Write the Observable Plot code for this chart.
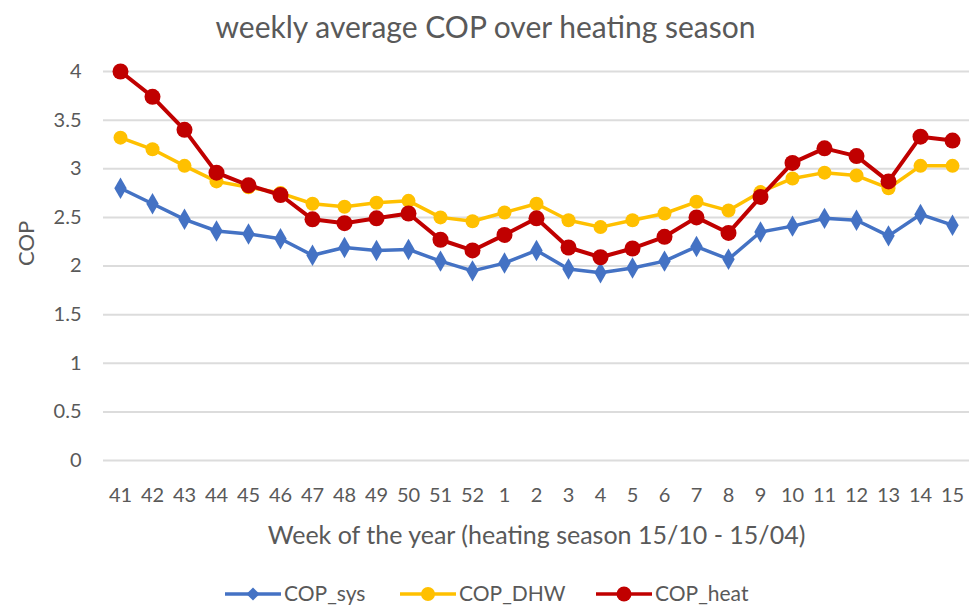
<!DOCTYPE html>
<html>
<head>
<meta charset="utf-8">
<script src="https://cdn.jsdelivr.net/npm/d3@7"></script>
<script src="https://cdn.jsdelivr.net/npm/@observablehq/plot@0.6"></script>
<style>
  body { margin: 0; background: #fff; }
  #wrap { position: relative; width: 969px; height: 608px; overflow: hidden;
          font-family: Lato, sans-serif; color: #595959; }
  #legend { position: absolute; left: 0; top: 581px; width: 969px; height: 27px; }
</style>
</head>
<body>
<div id="wrap"><div id="chart"></div><div id="legend"></div></div>
<script>
const weeks = ["41","42","43","44","45","46","47","48","49","50","51","52","1","2","3","4","5","6","7","8","9","10","11","12","13","14","15"];
const copSys  = [2.80,2.64,2.48,2.36,2.33,2.28,2.11,2.19,2.16,2.17,2.05,1.95,2.03,2.16,1.97,1.93,1.98,2.05,2.20,2.07,2.35,2.41,2.49,2.47,2.31,2.53,2.42];
const copDhw  = [3.32,3.20,3.03,2.87,2.81,2.75,2.64,2.61,2.65,2.67,2.50,2.46,2.55,2.64,2.47,2.40,2.47,2.54,2.66,2.57,2.76,2.90,2.96,2.93,2.80,3.03,3.03];
const copHeat = [4.00,3.74,3.40,2.96,2.83,2.73,2.48,2.44,2.49,2.54,2.27,2.16,2.32,2.49,2.19,2.09,2.18,2.30,2.50,2.34,2.71,3.06,3.21,3.13,2.87,3.33,3.29];
const yTicks = [0,0.5,1,1.5,2,2.5,3,3.5,4];
const seriesNames = ["COP_sys","COP_DHW","COP_heat"];
const seriesColors = ["#4472C4","#FFC000","#C00000"];
const title = "weekly average COP over heating season";
const xTitle = "Week of the year (heating season 15/10 - 15/04)";
const yTitle = "COP";

const mk = (vals) => weeks.map((w, i) => ({week: w, value: vals[i]}));
const sys = mk(copSys), dhw = mk(copDhw), heat = mk(copHeat);
const font = 'Lato, sans-serif';

const chart = Plot.plot({
  width: 969,
  height: 581,
  marginTop: 71,
  marginBottom: 121,
  marginLeft: 103,
  marginRight: 0,
  style: {fontFamily: font, color: "#595959", background: "white"},
  x: {type: "point", domain: weeks, padding: 0.5, label: null},
  y: {domain: [0, 4], label: null},
  marks: [
    Plot.gridY(yTicks, {stroke: "#dcdcdc", strokeOpacity: 1, strokeWidth: 2}),
    Plot.axisY(yTicks, {tickSize: 0, tickPadding: 22, fontSize: 20, tickFormat: d => String(d), label: null, fill: "#595959"}),
    Plot.axisX(weeks, {tickSize: 0, tickPadding: 27, fontSize: 20, label: null, fill: "#595959"}),
    Plot.line(sys, {x: "week", y: "value", stroke: seriesColors[0], strokeWidth: 3.5}),
    Plot.dot(sys, {x: "week", y: "value", fill: seriesColors[0], symbol: "diamond", r: 6.5}),
    Plot.line(dhw, {x: "week", y: "value", stroke: seriesColors[1], strokeWidth: 3.5}),
    Plot.dot(dhw, {x: "week", y: "value", fill: seriesColors[1], r: 7}),
    Plot.line(heat, {x: "week", y: "value", stroke: seriesColors[2], strokeWidth: 4}),
    Plot.dot(heat, {x: "week", y: "value", fill: seriesColors[2], r: 8}),
    Plot.text([title], {frameAnchor: "top", lineAnchor: "middle", dx: -51, dy: -43, fontSize: 30, fill: "#595959"}),
    Plot.text([xTitle], {frameAnchor: "bottom", lineAnchor: "middle", dx: 0, dy: 75, fontSize: 25, fill: "#595959"}),
    Plot.text([yTitle], {frameAnchor: "left", lineAnchor: "middle", dx: -77, rotate: -90, fontSize: 22, fill: "#595959"})
  ]
});
document.getElementById("chart").appendChild(chart);

// legend
const leg = d3.select("#legend").append("svg").attr("width", 969).attr("height", 27);
const items = [
  {x: 225, text: seriesNames[0], color: seriesColors[0], sym: "diamond"},
  {x: 400, text: seriesNames[1], color: seriesColors[1], sym: "circle"},
  {x: 596, text: seriesNames[2], color: seriesColors[2], sym: "circle"}
];
items.forEach(it => {
  const g = leg.append("g").attr("transform", `translate(${it.x},13)`);
  g.append("line").attr("x1", 0).attr("x2", 56).attr("stroke", it.color).attr("stroke-width", 3.5);
  if (it.sym === "diamond") g.append("path").attr("d", d3.symbol(d3.symbolDiamond2, 110)()).attr("transform", "translate(28,0)").attr("fill", it.color);
  else g.append("circle").attr("cx", 28).attr("r", it.color === "#C00000" ? 7.5 : 7).attr("fill", it.color);
  g.append("text").attr("x", 59).attr("y", 0).attr("dy", "0.35em").attr("font-size", 21).attr("fill", "#595959").attr("font-family", font).text(it.text);
});
</script>
</body>
</html>
